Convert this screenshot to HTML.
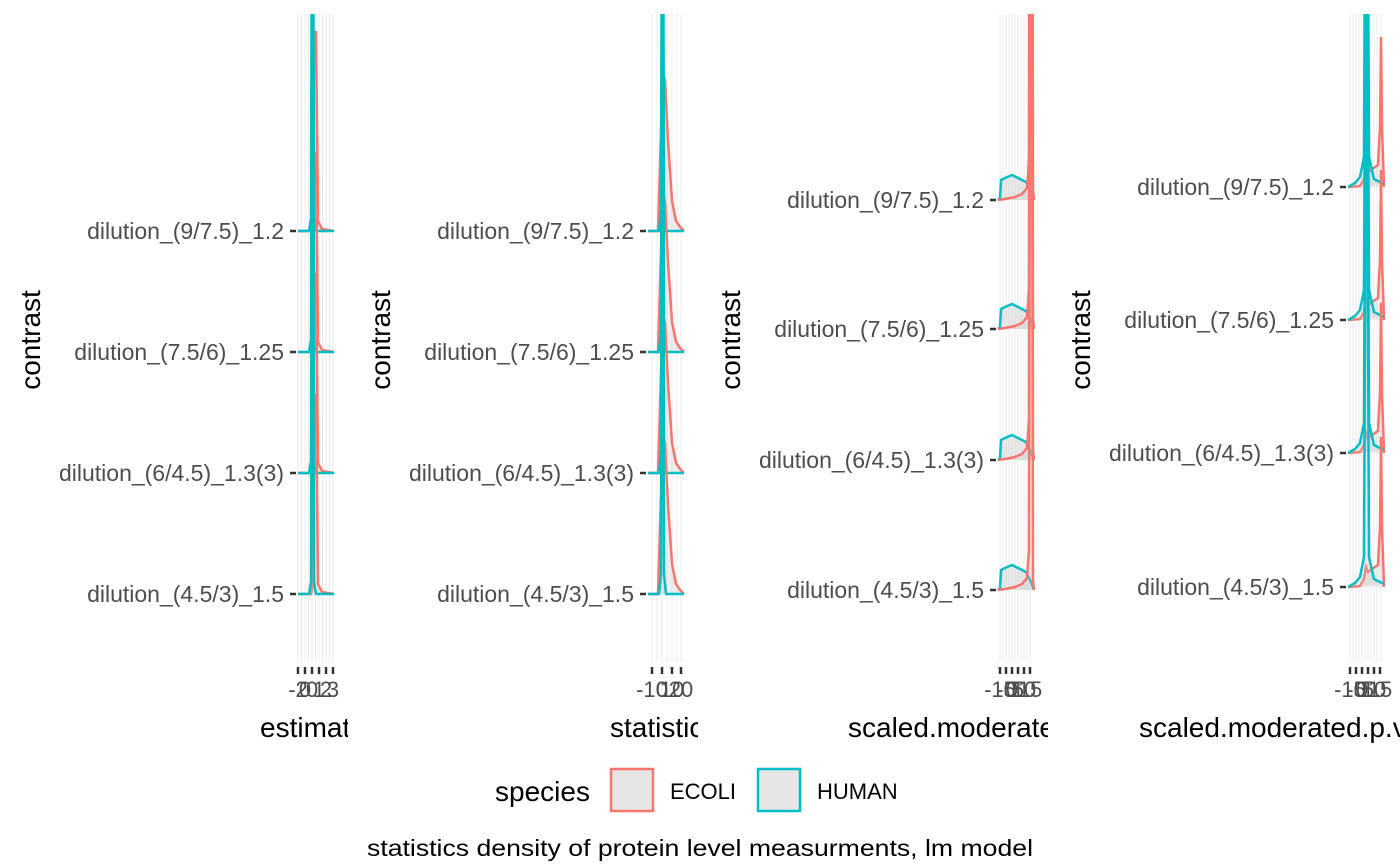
<!DOCTYPE html>
<html><head><meta charset="utf-8"><style>html,body{margin:0;padding:0;background:#fff}svg{display:block}text{font-family:"Liberation Sans",Arial,sans-serif}</style></head>
<body>
<svg width="1400" height="866" viewBox="0 0 1400 866" xmlns="http://www.w3.org/2000/svg">
<defs>
<clipPath id="c1"><rect x="296" y="14" width="40" height="648"/></clipPath>
<clipPath id="c2"><rect x="646" y="14" width="40" height="648"/></clipPath>
<clipPath id="c3"><rect x="996" y="14" width="40" height="648"/></clipPath>
<clipPath id="c4"><rect x="1346" y="14" width="40" height="648"/></clipPath>
<clipPath id="t1"><rect x="0" y="700" width="348" height="60"/></clipPath>
<clipPath id="t2"><rect x="350" y="700" width="348" height="60"/></clipPath>
<clipPath id="t3"><rect x="700" y="700" width="348" height="60"/></clipPath>
<clipPath id="t4"><rect x="1050" y="700" width="350" height="60"/></clipPath>
<g id="r1">
<path d="M298,0 L311,0 L313,-10 L314,-199 L316,-199 L318,-10 L322,-2 L334,0" fill="rgba(200,200,200,0.3)" stroke="#F8766D" stroke-width="2.5"/>
<path d="M298,0 L309,0 L311,-12 L312,-400 L313,-400 L314,-12 L316,0 L334,0" fill="rgba(200,200,200,0.3)" stroke="#00BFC4" stroke-width="2.5"/>
</g>
<g id="r2">
<path d="M648,0 L658,0 L661,-100 L663,-160 L665,-150 L668,-90 L672,-30 L676,-10 L680,-4 L684,0" fill="rgba(200,200,200,0.3)" stroke="#F8766D" stroke-width="2.5"/>
<path d="M648,0 L659,0 L661,-20 L662,-400 L663,-400 L664,-20 L666,0 L684,0" fill="rgba(200,200,200,0.3)" stroke="#00BFC4" stroke-width="2.5"/>
</g>
<g id="r3">
<path d="M998,0 L1000,-2 L1001,-20 L1005,-22 L1012,-25 L1018,-22 L1026,-18 L1031,-8 L1034,0" fill="rgba(200,200,200,0.4)" stroke="#00BFC4" stroke-width="2.5"/>
<path d="M998,0 L1005,-1 L1015,-3 L1022,-6 L1027,-12 L1029,-40 L1030,-600 L1032,-600 L1033,-10 L1034,0" fill="rgba(200,200,200,0.3)" stroke="#F8766D" stroke-width="2.5"/>
</g>
<g id="r4">
<path d="M1348,0 L1360,-1 L1364,-8 L1366,-20 L1368,-15 L1372,-18 L1378,-22 L1380,-60 L1381,-150 L1382,-60 L1384,0" fill="rgba(200,200,200,0.3)" stroke="#F8766D" stroke-width="2.5"/>
<path d="M1348,0 L1355,-4 L1360,-10 L1364,-30 L1366,-500 L1367,-500 L1369,-30 L1374,-8 L1384,-3" fill="rgba(200,200,200,0.3)" stroke="#00BFC4" stroke-width="2.5"/>
</g>
</defs>
<g stroke="#ebebeb" stroke-width="1">
<path d="M298,14V662M301.5,14V662M305,14V662M308.5,14V662M312,14V662M315.5,14V662M319,14V662M322.5,14V662M326,14V662M329.5,14V662M333,14V662"/>
<path d="M652,14V662M657,14V662M662,14V662M667,14V662M672,14V662M677,14V662M681,14V662"/>
<path d="M1000,14V662M1003,14V662M1006,14V662M1009,14V662M1012,14V662M1015,14V662M1018,14V662M1021,14V662M1024,14V662M1027,14V662M1030,14V662"/>
<path d="M1350,14V662M1353,14V662M1356,14V662M1359,14V662M1362,14V662M1365,14V662M1368,14V662M1371,14V662M1374,14V662M1377,14V662M1381,14V662"/>
</g>
<g clip-path="url(#c1)"><use href="#r1" transform="translate(0,231)"/><use href="#r1" transform="translate(0,352)"/><use href="#r1" transform="translate(0,473)"/><use href="#r1" transform="translate(0,594)"/></g>
<g clip-path="url(#c2)"><use href="#r2" transform="translate(0,231)"/><use href="#r2" transform="translate(0,352)"/><use href="#r2" transform="translate(0,473)"/><use href="#r2" transform="translate(0,594)"/></g>
<g clip-path="url(#c3)"><use href="#r3" transform="translate(0,200)"/><use href="#r3" transform="translate(0,329)"/><use href="#r3" transform="translate(0,460)"/><use href="#r3" transform="translate(0,590)"/></g>
<g clip-path="url(#c4)"><use href="#r4" transform="translate(0,187)"/><use href="#r4" transform="translate(0,320)"/><use href="#r4" transform="translate(0,453)"/><use href="#r4" transform="translate(0,587)"/></g>
<g stroke="#333" stroke-width="2.5">
<path d="M290,231H296M290,352H296M290,473H296M290,594H296"/>
<path d="M640,231H646M640,352H646M640,473H646M640,594H646"/>
<path d="M990,200H996M990,329H996M990,460H996M990,590H996"/>
<path d="M1340,187H1346M1340,320H1346M1340,453H1346M1340,587H1346"/>
<path d="M298,667V674M305,667V674M312,667V674M319,667V674M326,667V674M333,667V674"/>
<path d="M652,667V674M662,667V674M672,667V674M681,667V674"/>
<path d="M1000,667V674M1006,667V674M1012,667V674M1018,667V674M1024,667V674M1030,667V674"/>
<path d="M1350,667V674M1356,667V674M1362,667V674M1368,667V674M1374,667V674M1380,667V674"/>
</g>
<g fill="#4d4d4d" font-size="23" text-anchor="end">
<text x="284" y="239">dilution_(9/7.5)_1.2</text><text x="284" y="360">dilution_(7.5/6)_1.25</text><text x="284" y="481">dilution_(6/4.5)_1.3(3)</text><text x="284" y="602">dilution_(4.5/3)_1.5</text>
<text x="634" y="239">dilution_(9/7.5)_1.2</text><text x="634" y="360">dilution_(7.5/6)_1.25</text><text x="634" y="481">dilution_(6/4.5)_1.3(3)</text><text x="634" y="602">dilution_(4.5/3)_1.5</text>
<text x="984" y="208">dilution_(9/7.5)_1.2</text><text x="984" y="337">dilution_(7.5/6)_1.25</text><text x="984" y="468">dilution_(6/4.5)_1.3(3)</text><text x="984" y="598">dilution_(4.5/3)_1.5</text>
<text x="1334" y="195">dilution_(9/7.5)_1.2</text><text x="1334" y="328">dilution_(7.5/6)_1.25</text><text x="1334" y="461">dilution_(6/4.5)_1.3(3)</text><text x="1334" y="595">dilution_(4.5/3)_1.5</text>
</g>
<g fill="#4d4d4d" font-size="22" text-anchor="middle">
<text x="298" y="697">-2</text><text x="305" y="697">0</text><text x="312" y="697">0</text><text x="319" y="697">1</text><text x="326" y="697">2</text><text x="333" y="697">3</text>
<text x="652" y="697">-10</text><text x="662" y="697">0</text><text x="672" y="697">10</text><text x="681" y="697">20</text>
<text x="1000" y="697">-10</text><text x="1006" y="697">-5</text><text x="1012" y="697">0</text><text x="1018" y="697">5</text><text x="1024" y="697">10</text><text x="1030" y="697">15</text>
<text x="1350" y="697">-10</text><text x="1356" y="697">-5</text><text x="1362" y="697">0</text><text x="1368" y="697">5</text><text x="1374" y="697">10</text><text x="1380" y="697">15</text>
</g>
<g fill="#000" font-size="28">
<text x="260" y="737" clip-path="url(#t1)">estimate</text>
<text x="610" y="737" clip-path="url(#t2)">statistic</text>
<text x="848" y="737" clip-path="url(#t3)">scaled.moderated.p.value</text>
<text x="1139" y="737" clip-path="url(#t4)">scaled.moderated.p.value</text>
<g text-anchor="middle">
<text transform="translate(40,340) rotate(-90)">contrast</text>
<text transform="translate(390,340) rotate(-90)">contrast</text>
<text transform="translate(740,340) rotate(-90)">contrast</text>
<text transform="translate(1090,340) rotate(-90)">contrast</text>
</g>
<text x="495" y="801">species</text>
</g>
<rect x="611" y="769" width="42" height="42" fill="#e6e6e6" stroke="#F8766D" stroke-width="2.5"/>
<rect x="758" y="769" width="42" height="42" fill="#e6e6e6" stroke="#00BFC4" stroke-width="2.5"/>
<text x="670" y="799" font-size="22" fill="#000">ECOLI</text>
<text x="817" y="799" font-size="22" fill="#000">HUMAN</text>
<text x="367" y="856" font-size="23" fill="#000" textLength="666" lengthAdjust="spacingAndGlyphs">statistics density of protein level measurments, lm model</text>
</svg>
</body></html>
